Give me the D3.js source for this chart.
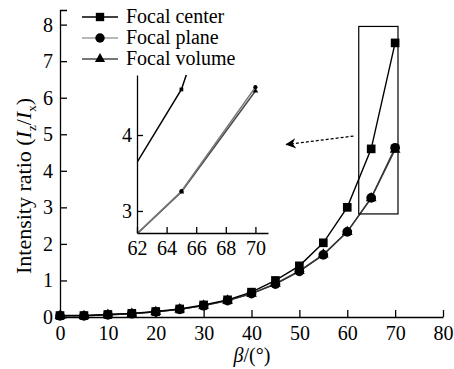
<!DOCTYPE html>
<html>
<head>
<meta charset="utf-8">
<script src="https://cdn.jsdelivr.net/npm/d3@7"></script>
<style>
  body { margin: 0; background: #fff; }
  svg text { font-family: "Liberation Serif", "Times New Roman", serif; }
</style>
</head>
<body>
<div id="chart"></div>
<script>
// datos
const beta = [0, 5, 10, 15, 20, 25, 30, 35, 40, 45, 50, 55, 60, 65, 70];
const focalCenter = [0.04, 0.04, 0.07, 0.1, 0.15, 0.22, 0.33, 0.47, 0.68, 1.0, 1.4, 2.03, 3.0, 4.6, 7.5];
const focalPlane = [0.03, 0.03, 0.06, 0.09, 0.14, 0.21, 0.31, 0.45, 0.64, 0.9, 1.25, 1.7, 2.33, 3.26, 4.63];
const focalVolume = [0.03, 0.03, 0.06, 0.09, 0.14, 0.21, 0.31, 0.45, 0.64, 0.91, 1.26, 1.71, 2.33, 3.25, 4.58];
const seriesNames = ["Focal center", "Focal plane", "Focal volume"];
const xTicks = [0, 10, 20, 30, 40, 50, 60, 70, 80];
const yTicks = [0, 1, 2, 3, 4, 5, 6, 7, 8];
const insetXTicks = [62, 64, 66, 68, 70];
const insetYTicks = [3, 4];

const series = [
  { name: seriesNames[0], values: focalCenter, color: "#000", marker: "square", size: 75 },
  { name: seriesNames[1], values: focalPlane, color: "#a0a0a0", marker: "circle", size: 75 },
  { name: seriesNames[2], values: focalVolume, color: "#4a4a4a", marker: "triangle", size: 50 }
];

const W = 454, H = 369;
const svg = d3.select("#chart").append("svg").attr("width", W).attr("height", H);

// escalas principales
const x = d3.scaleLinear().domain([0, 80]).range([60, 443]);
const y = d3.scaleLinear().domain([0, 8.4]).range([317, 10]);

function symbolFor(m, size) {
  const t = m === "square" ? d3.symbolSquare : m === "circle" ? d3.symbolCircle : d3.symbolTriangle;
  return d3.symbol().type(t).size(size)();
}

function estiloEje(a, fs) {
  a.attr("font-family", null);
  a.selectAll("path, line").attr("stroke", "#000").attr("stroke-width", 1.3);
  a.selectAll("text").attr("font-size", fs).attr("fill", "#000");
}

// ejes
const xAxis = svg.append("g").attr("transform", "translate(0,317)")
  .call(d3.axisBottom(x).tickValues(xTicks).tickSizeInner(-7).tickSizeOuter(0).tickPadding(9));
const yAxis = svg.append("g").attr("transform", "translate(60,0)")
  .call(d3.axisLeft(y).tickValues(yTicks).tickSizeInner(-7).tickSizeOuter(-7).tickPadding(7));
estiloEje(xAxis, 20);
estiloEje(yAxis, 20);

// lineas y marcadores
const line = d3.line().x((d, i) => x(beta[i])).y(d => y(d));
series.slice().reverse().forEach(s => {
  svg.append("path").datum(s.values).attr("d", line)
    .attr("fill", "none").attr("stroke", s.color === "#a0a0a0" ? "#333" : s.color).attr("stroke-width", 1.4);
});
series.slice().reverse().forEach(s => {
  svg.selectAll(null).data(s.values).enter().append("path")
    .attr("d", symbolFor(s.marker, s.size))
    .attr("transform", (d, i) => `translate(${x(beta[i])},${y(d)})`)
    .attr("fill", "#000");
});

// rectangulo de zoom
svg.append("rect")
  .attr("x", x(62.4)).attr("y", y(7.95))
  .attr("width", x(70.6) - x(62.4)).attr("height", y(2.82) - y(7.95))
  .attr("fill", "none").attr("stroke", "#000").attr("stroke-width", 1.2);

// flecha punteada
svg.append("defs").append("marker").attr("id", "ah")
  .attr("viewBox", "0 0 10 10").attr("refX", 9).attr("refY", 5)
  .attr("markerWidth", 10).attr("markerHeight", 8).attr("orient", "auto")
  .append("path").attr("d", "M10,5 L0,0 L3,5 L0,10 Z").attr("fill", "#000");
svg.append("line")
  .attr("x1", x(61.3)).attr("y1", y(4.95)).attr("x2", x(47.3)).attr("y2", y(4.72))
  .attr("stroke", "#000").attr("stroke-width", 1.3).attr("stroke-dasharray", "3,2")
  .attr("marker-end", "url(#ah)");

// grafico insertado
const ix = d3.scaleLinear().domain([62, 70.85]).range([137, 268]);
const iy = d3.scaleLinear().domain([2.71, 4.79]).range([233, 75]);
svg.append("clipPath").attr("id", "insetClip").append("rect")
  .attr("x", 137).attr("y", 75).attr("width", 131).attr("height", 158);
const iline = d3.line().x((d, i) => ix(beta[i])).y(d => iy(d));
const ig = svg.append("g").attr("clip-path", "url(#insetClip)");
series.slice().reverse().forEach(s => {
  ig.append("path").datum(s.values).attr("d", iline)
    .attr("fill", "none").attr("stroke", s.color === "#a0a0a0" ? "#777" : s.color).attr("stroke-width", 1.5);
  ig.selectAll(null).data(s.values).enter().append("path")
    .attr("d", symbolFor(s.marker, 14))
    .attr("transform", (d, i) => `translate(${ix(beta[i])},${iy(d)})`)
    .attr("fill", "#000");
});
const ixAxis = svg.append("g").attr("transform", "translate(0,233)")
  .call(d3.axisBottom(ix).tickValues(insetXTicks).tickSizeInner(-6).tickSizeOuter(0).tickPadding(8));
const iyAxis = svg.append("g").attr("transform", "translate(137,0)")
  .call(d3.axisLeft(iy).tickValues(insetYTicks).tickFormat(d3.format("d")).tickSizeInner(-6).tickSizeOuter(0).tickPadding(5));
estiloEje(ixAxis, 20);
estiloEje(iyAxis, 20);

// leyenda
const leg = svg.append("g");
series.forEach((s, i) => {
  const yy = 17 + i * 21;
  leg.append("line").attr("x1", 82).attr("x2", 118).attr("y1", yy).attr("y2", yy)
    .attr("stroke", s.color).attr("stroke-width", 1.5);
  leg.append("path").attr("d", symbolFor(s.marker, s.size - 5))
    .attr("transform", `translate(100,${yy})`).attr("fill", "#000");
  leg.append("text").attr("x", 126).attr("y", yy + 6).attr("font-size", 20)
    .text(s.name);
});

// titulos de ejes
const xl = svg.append("text").attr("x", 252).attr("y", 362).attr("text-anchor", "middle").attr("font-size", 20);
xl.append("tspan").attr("font-style", "italic").text("β");
xl.append("tspan").text("/(°)");

const yl = svg.append("text").attr("transform", "translate(31,186) rotate(-90)")
  .attr("text-anchor", "middle").attr("font-size", 22);
yl.append("tspan").text("Intensity ratio (");
yl.append("tspan").attr("font-style", "italic").text("I");
yl.append("tspan").attr("font-size", 13).attr("dy", 5).text("z");
yl.append("tspan").attr("dy", -5).text("/");
yl.append("tspan").attr("font-style", "italic").text("I");
yl.append("tspan").attr("font-size", 13).attr("dy", 5).text("x");
yl.append("tspan").attr("dy", -5).text(")");
</script>
</body>
</html>
